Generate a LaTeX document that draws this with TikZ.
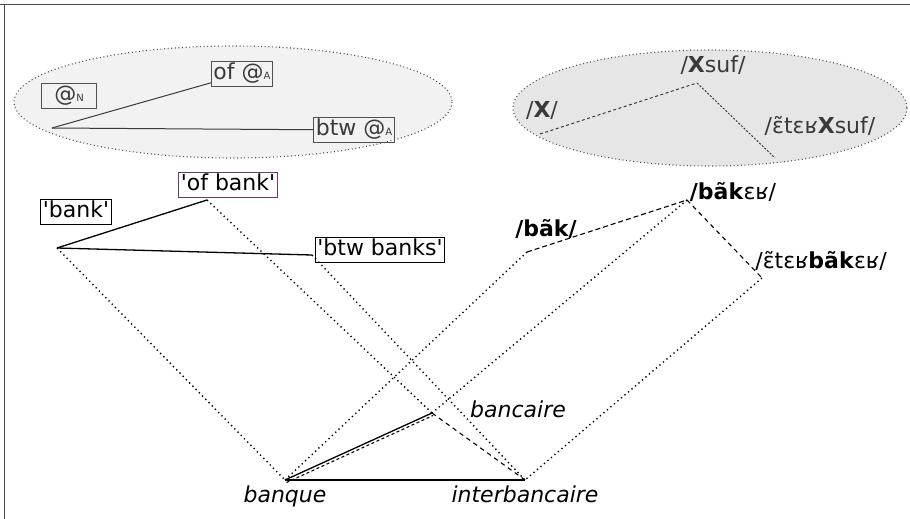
\documentclass[tikz,border=0pt]{standalone}
\usepackage{fontspec}
\setmainfont{DejaVu Sans}

\definecolor{framegray}{HTML}{4A4A4A}
\definecolor{semfill}{HTML}{F2F2F2}
\definecolor{phonfill}{HTML}{E6E6E6}
\definecolor{schemaedge}{HTML}{505050}
\definecolor{schemaink}{HTML}{3A3A3A}
\definecolor{glossframe}{HTML}{6A3C6A}

\newcommand{\sq}{\textquotesingle}
\newcommand{\subtag}[1]{{\fontsize{10}{11}\selectfont #1}}

\tikzset{
    sem/.style={line width=1.3pt},
    phon/.style={line width=1.1pt, dash pattern=on 5pt off 3pt},
    phonlong/.style={line width=1.1pt, dash pattern=on 4.5pt off 4pt},
    link/.style={line width=1.4pt, dash pattern=on 1.3pt off 3.3pt},
    schemaline/.style={schemaink, line width=1pt},
    schemadash/.style={schemaink, line width=1pt, dash pattern=on 3pt off 2.5pt},
    schemafine/.style={schemaink, line width=1pt, dash pattern=on 2pt off 1.6pt},
    schemaedgeline/.style={schemaedge, line width=1.1pt, dash pattern=on 1pt off 2.6pt},
    txt/.style={font=\fontsize{22}{26}\selectfont, text height=16.5pt, text depth=5pt, inner sep=2pt},
    schemabox/.style={txt, draw=schemaedge, line width=1pt, text=schemaink},
    schematext/.style={txt, text=schemaink},
    gloss/.style={txt, draw, line width=1.1pt},
    form/.style={txt},
    word/.style={txt, font=\fontsize{22}{26}\selectfont\itshape}
}

\begin{document}
\begin{tikzpicture}[x=1pt,y=-1pt]
    \useasboundingbox (0,0) rectangle (910,519);

    % frame (top and left edge)
    \draw[framegray, line width=1.8pt] (0,4.5) -- (910,4.5);
    \draw[framegray, line width=1.8pt] (4.5,4.5) -- (4.5,519);

    % schemas
    \draw[schemaedgeline, fill=semfill] (233,102) ellipse [x radius=219, y radius=56];
    \draw[schemaedgeline, fill=phonfill] (710,108) ellipse [x radius=197, y radius=58];

    % meaning schema
    \node[schemabox, minimum width=55pt] (atN) at (69,96) {@\subtag{N}};
    \node[schemabox] (ofA) at (242,74) {of @\subtag{A}};
    \node[schemabox] (btwA) at (354,130) {btw @\subtag{A}};
    \coordinate (sroot) at (52,128);
    \draw[schemaline] (sroot) -- (ofA);
    \draw[schemaline] (sroot) -- (btwA);

    % form schema
    \node[schematext] (X) at (542,112) {/\textbf{X}/};
    \node[schematext] (Xsuf) at (713,67) {/\textbf{X}suf/};
    \node[schematext] (interXsuf) at (820,128) {/ɛ̃tɛʁ\textbf{X}suf/};
    \coordinate (proot) at (697,83);
    \coordinate (pX) at (540,134);
    \coordinate (pinter) at (775,158);
    \draw[schemadash] (pX) -- (proot);
    \draw[schemafine] (proot) -- (pinter);

    % meanings
    \node[gloss] (bank) at (76,212) {\sq bank\sq};
    \node[gloss, draw=glossframe] (ofbank) at (228,185) {\sq of bank\sq};
    \node[gloss] (btwbanks) at (380,250) {\sq btw banks\sq};
    \coordinate (mbank) at (57,248);
    \coordinate (mofbank) at (207,200);
    \coordinate (mbtw) at (312,255);
    \draw[sem] (mbank) -- (mofbank);
    \draw[sem] (mbank) -- (mbtw);

    % forms
    \node[form] (bankform) at (546,231) {\textbf{/bãk/}};
    \node[form] (bancform) at (733,194) {\textbf{/bãk}ɛʁ/};
    \node[form] (interform) at (821,263) {/ɛ̃tɛʁ\textbf{bãk}ɛʁ/};
    \coordinate (fbank) at (527,252);
    \coordinate (fbanc) at (687,200);
    \coordinate (finter) at (762,278);
    \draw[phon] (fbank) -- (fbanc);
    \draw[phonlong] (fbanc) -- (finter);

    % words
    \node[word] (banque) at (285,497) {banque};
    \node[word] (bancaire) at (518,412) {bancaire};
    \node[word] (interbancaire) at (525,497) {interbancaire};
    \coordinate (wbanque) at (285,480);
    \coordinate (wbanc) at (432,413);
    \coordinate (winter) at (525,480);
    \draw[sem] (wbanque) -- (wbanc);
    \draw[phon, dash pattern=on 3pt off 2.5pt] ([shift={(1.5pt,-2.5pt)}]wbanque) -- ([shift={(1pt,-2.5pt)}]wbanc);
    \draw[sem] (wbanque) -- (winter);
    \draw[phonlong] (wbanc) -- (winter);

    % links between levels
    \draw[link] (mbank) -- (wbanque);
    \draw[link] (mofbank) -- (wbanc);
    \draw[link] (mbtw) -- (winter);
    \draw[link] (fbank) -- (wbanque);
    \draw[link] (fbanc) -- (wbanc);
    \draw[link] (finter) -- (winter);
\end{tikzpicture}
\end{document}
